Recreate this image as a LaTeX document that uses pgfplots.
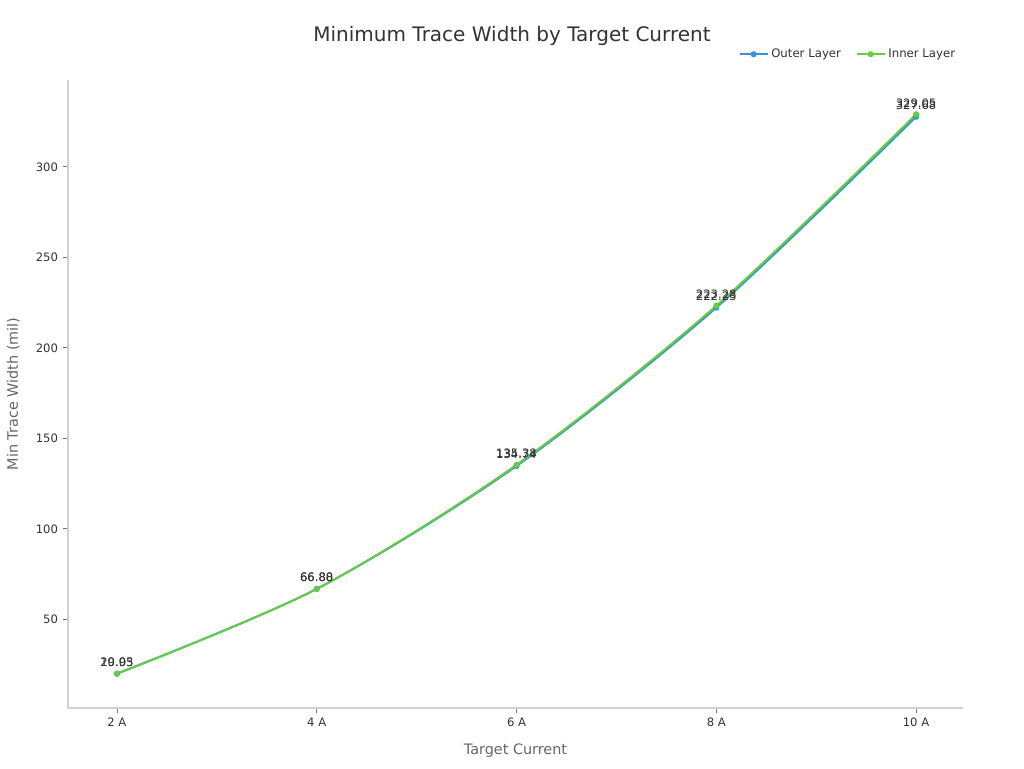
\documentclass[border=0pt]{standalone}
\usepackage{pgfplots}
\pgfplotsset{compat=1.18}
\usepackage{fontspec}
\setmainfont{DejaVu Sans}
\definecolor{outerc}{HTML}{3A8EE6}
\definecolor{innerc}{HTML}{66CC44}
\definecolor{txt}{HTML}{333333}
\definecolor{lbl}{HTML}{666666}
\begin{document}
\begin{tikzpicture}
\begin{axis}[
  scale only axis,
  width=671.25pt, height=471pt,
  xmin=-0.245, xmax=4.235, ymin=1, ymax=348,
  xtick={0,1,2,3,4}, xticklabels={2 A,4 A,6 A,8 A,10 A},
  ytick={50,100,150,200,250,300},
  axis x line*=bottom, axis y line*=left,
  axis line style={draw=black!18, line width=0.8pt},
  every tick/.style={draw=black!55, line width=0.6pt},
  major tick length=4pt, tick align=outside,
  ticklabel style={font=\fontsize{8.7}{10}\selectfont, text=txt},
  /pgf/number format/assume math mode=true,
  title={Minimum Trace Width by Target Current},
  title style={at={(axis description cs:0.4961,1.0574)}, anchor=center, font=\fontsize{15}{18}\selectfont, text=txt},
  xlabel={Target Current}, ylabel={Min Trace Width (mil)},
  label style={font=\fontsize{10.8}{12}\selectfont, text=lbl},
  xlabel style={at={(axis description cs:0.5,-0.0679)}, anchor=center},
  ylabel style={at={(axis description cs:-0.0611,0.5)}, anchor=center},
  legend columns=2,
  legend style={at={(axis description cs:0.999,1.041)}, anchor=east, draw=none, fill=none,
    font=\fontsize{8.8}{10}\selectfont, text=txt,
    /tikz/every even column/.append style={column sep=9pt}},
  legend image code/.code={\draw[#1, mark repeat=2, mark phase=2] plot coordinates {(0pt,0pt)(10.5pt,0pt)(21pt,0pt)};},
  nodes near coords={\pgfmathprintnumber[fixed,fixed zerofill,precision=2]{\pgfplotspointmeta}},
  every node near coord/.append style={font=\fontsize{8.7}{10}\selectfont, text=txt, anchor=south, inner sep=0pt, yshift=4.5pt},
]
\coordinate (ll) at (rel axis cs:0,0);
\addplot[color=outerc, line width=1.5pt, smooth, mark=*, mark size=1.5pt, mark options={draw=outerc, fill=outerc}]
  coordinates {(0,19.95) (1,66.80) (2,134.74) (3,222.23) (4,327.68)};
\addlegendentry{Outer Layer}
\addplot[color=innerc, line width=1.5pt, smooth, mark=*, mark size=1.5pt, mark options={draw=innerc, fill=innerc}]
  coordinates {(0,20.03) (1,66.88) (2,135.38) (3,223.28) (4,329.05)};
\addlegendentry{Inner Layer}
\end{axis}
\pgfresetboundingbox
\path[use as bounding box] ([shift={(-51pt,-45pt)}]ll) rectangle ([shift={(717pt,531pt)}]ll);
\end{tikzpicture}
\end{document}
